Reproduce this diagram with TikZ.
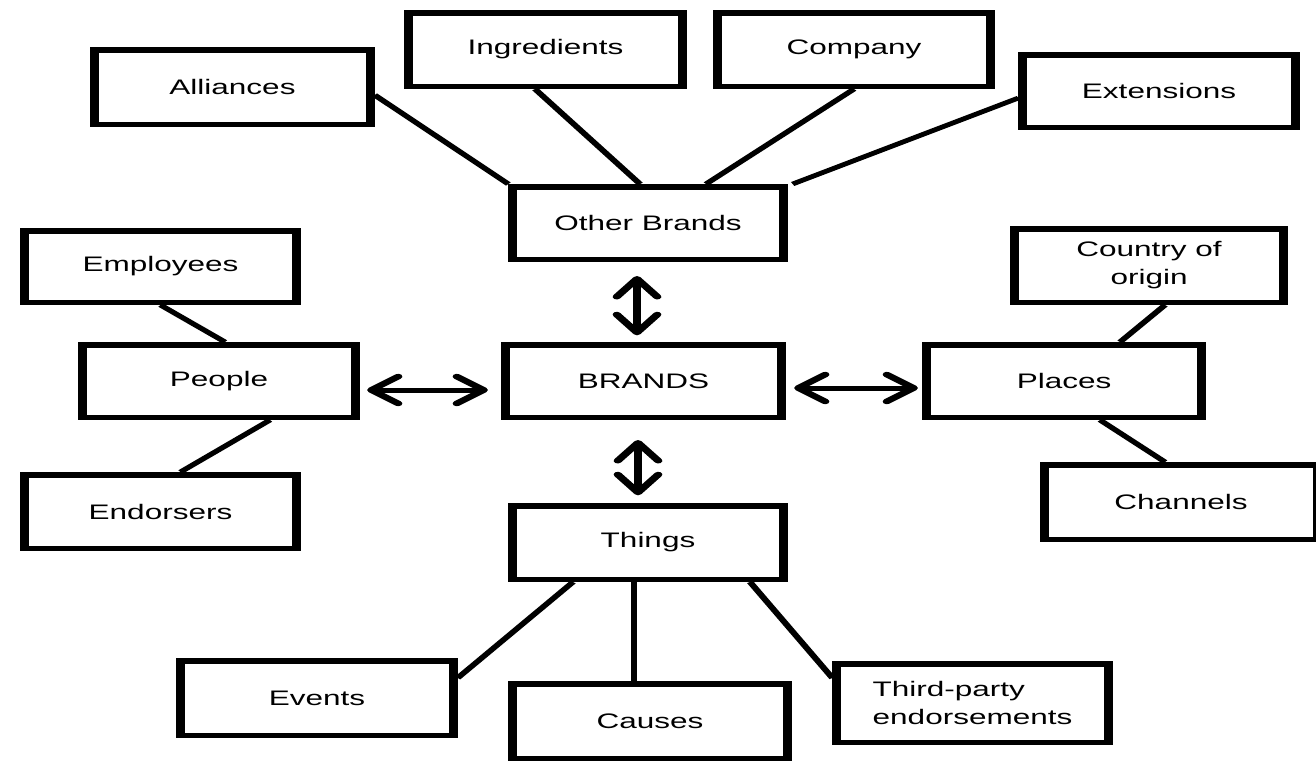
\documentclass[tikz,border=0pt]{standalone}
\usepackage{fontspec}
\setmainfont{Liberation Sans}
\usetikzlibrary{arrows.meta,calc}
\tikzset{
  box/.style={draw, line width=5.5pt, rectangle, inner sep=0pt, align=center,
              font=\fontsize{21}{28}\selectfont},
  link/.style={line width=4.5pt},
  barb/.tip={Straight Barb[length=18pt,width=27pt,line width=5.5pt,round]},
  biarrow/.style={line width=5pt, barb-barb}
}
\begin{document}
\begin{tikzpicture}
\useasboundingbox (0,0) rectangle (1316pt,-764pt);
\begin{scope}[transform canvas={xscale=1.5}, x={(0.6666667pt,0pt)}, y={(0pt,-1pt)}]
% nodes
\node[box, minimum width=184pt,   minimum height=74.5pt] (al)   at (232.5,87)  {Alliances};
\node[box, minimum width=182.7pt, minimum height=73.5pt] (ing)  at (545.5,49.5) {Ingredients};
\node[box, minimum width=182pt,   minimum height=73.5pt] (comp) at (854,49.5)  {Company};
\node[box, minimum width=182pt,   minimum height=72.5pt] (ext)  at (1159,91)   {Extensions};
\node[box, minimum width=180.7pt, minimum height=72.5pt] (ob)   at (648,223)   {Other Brands};
\node[box, minimum width=181.3pt, minimum height=71.5pt] (emp)  at (160.5,266.5) {Employees};
\node[box, minimum width=179.3pt, minimum height=73.5pt] (coo)  at (1149,265.5) {Country of\\origin};
\node[box, minimum width=182pt,   minimum height=72.5pt] (ppl)  at (219,381)   {People};
\node[box, minimum width=184pt,   minimum height=72.5pt] (br)   at (643.5,381) {BRANDS};
\node[box, minimum width=183.3pt, minimum height=72.5pt] (pl)   at (1064,381)  {Places};
\node[box, minimum width=181.3pt, minimum height=73.5pt] (end)  at (160.5,511.5) {Endorsers};
\node[box, minimum width=182pt,   minimum height=74.5pt] (ch)   at (1181,502)  {Channels};
\node[box, minimum width=180.7pt, minimum height=73.5pt] (th)   at (648,542.5) {Things};
\node[box, minimum width=182pt,   minimum height=74.5pt] (ev)   at (317,698)   {Events};
\node[box, minimum width=183.3pt, minimum height=74.5pt] (ca)   at (650,721)   {Causes};
\node[box, minimum width=181.3pt, minimum height=78.5pt, align=left] (tp) at (972.5,703) {Third-party\\endorsements};
% plain connectors
\draw[link] ($(al.east)+(0,8)$) -- (ob.north west);
\draw[link] ($(ing.south)+(-10.5,0)$) -- ($(ob.north)+(-8,0)$);
\draw[link] (comp.south) -- ($(ob.north)+(58,0)$);
\draw[link] ($(ext.west)+(0,7)$) -- ($(ob.north east)+(5,0)$);
\draw[link] (emp.south) -- ($(ppl.north)+(6,0)$);
\draw[link] ($(ppl.south)+(51,0)$) -- ($(end.north)+(20,0)$);
\draw[link] ($(coo.south)+(16,0)$) -- ($(pl.north)+(56,0)$);
\draw[link] ($(pl.south)+(36,0)$) -- ($(ch.north)+(-16,0)$);
\draw[link] ($(th.south)+(-75,0)$) -- ($(ev.east)+(0,-20)$);
\draw[link] ($(th.south)+(-14,0)$) -- ($(ca.north)+(-16,0)$);
\draw[link] ($(th.south)+(102,0)$) -- ($(tp.west)+(0,-25)$);
% double arrows
\draw[biarrow] ($(ob.south)+(-11,14)$) -- ($(br.north)+(-6.5,-6.75)$);
\draw[biarrow] ($(br.south)+(-5.5,20)$) -- ($(th.north)+(-10,-7.75)$);
\draw[biarrow] ($(ppl.east)+(7.5,9)$) -- ($(br.west)+(-13.5,9)$);
\draw[biarrow] ($(br.east)+(8.5,7)$) -- ($(pl.west)+(-4.5,7)$);
\end{scope}
\end{tikzpicture}
\end{document}
